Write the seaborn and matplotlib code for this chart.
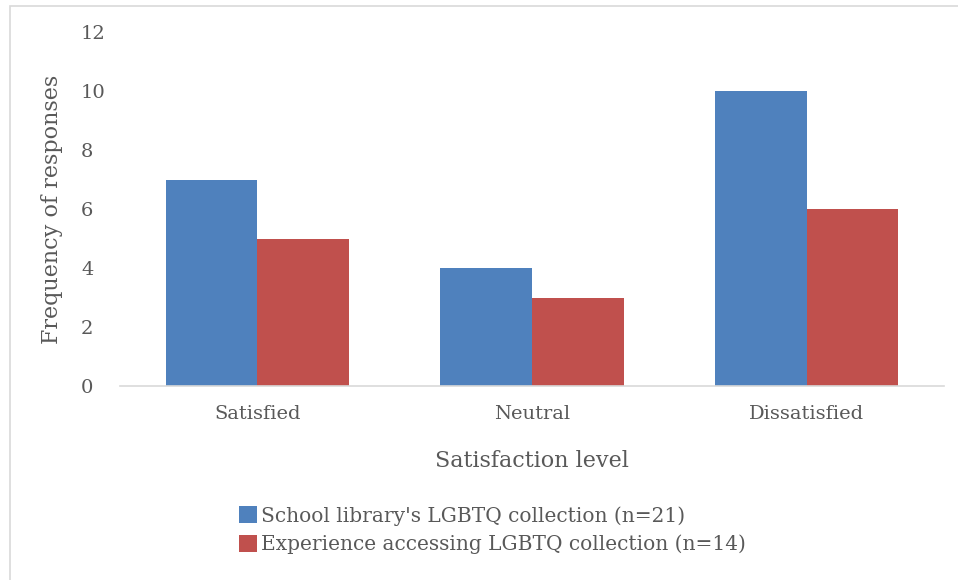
import matplotlib
matplotlib.use("Agg")
import matplotlib.pyplot as plt
from matplotlib.patches import Rectangle
import seaborn as sns
import pandas as pd

categories = ["Satisfied", "Neutral", "Dissatisfied"]
series_names = [
    "School library's LGBTQ collection (n=21)",
    "Experience accessing LGBTQ collection (n=14)",
]
collection_counts = [7, 4, 10]
access_counts = [5, 3, 6]
y_ticks = [0, 2, 4, 6, 8, 10, 12]

df = pd.DataFrame({
    "level": categories * 2,
    "count": collection_counts + access_counts,
    "series": [series_names[0]] * 3 + [series_names[1]] * 3,
})

sns.set_theme(style="white")
plt.rcParams["font.family"] = ["DejaVu Serif"]
text_color = "#595959"

fig = plt.figure(figsize=(9.58, 5.8), dpi=100)
ax = fig.add_axes([120 / 958, 1 - 386 / 580, (944 - 120) / 958, (386 - 32) / 580])

palette = {series_names[0]: "#4F81BD", series_names[1]: "#C0504D"}
sns.barplot(data=df, x="level", y="count", hue="series", order=categories,
            hue_order=series_names, palette=palette, width=0.667, gap=0,
            saturation=1, edgecolor="none", linewidth=0, ax=ax)

ax.set_ylim(0, 12)
ax.set_xlim(-0.5, 2.5)
ax.set_yticks(y_ticks)
ax.set_yticklabels([str(t) for t in y_ticks])
for s in ["top", "right", "left"]:
    ax.spines[s].set_visible(False)
ax.spines["bottom"].set_color("#D9D9D9")
ax.spines["bottom"].set_linewidth(1.2)
ax.tick_params(axis="both", length=0, labelsize=14, colors=text_color)
ax.tick_params(axis="y", pad=28)
ax.tick_params(axis="x", pad=14)
for lab in ax.get_yticklabels():
    lab.set_horizontalalignment("left")

ax.set_xlabel("Satisfaction level", fontsize=16, color=text_color, labelpad=19)
ax.set_ylabel("Frequency of responses", fontsize=16, color=text_color)
ax.yaxis.set_label_coords(-0.069, 0.5)

ax.get_legend().remove()
handles, labels = ax.get_legend_handles_labels()
fig.legend(handles, labels, loc="upper left", bbox_to_anchor=(239 / 958, 1 - 506 / 580),
           frameon=False, fontsize=14.5, labelcolor=text_color,
           handlelength=0.9, handleheight=0.9, handletextpad=0.2,
           labelspacing=0.45, borderpad=0, borderaxespad=0)

# outer chart-area border
fig.add_artist(Rectangle((10 / 958, -0.1), 1.2, 1 - 6 / 580 + 0.1,
                         transform=fig.transFigure, fill=False,
                         edgecolor="#D9D9D9", linewidth=1.2))

fig.savefig("out.png", dpi=100, facecolor="white")
